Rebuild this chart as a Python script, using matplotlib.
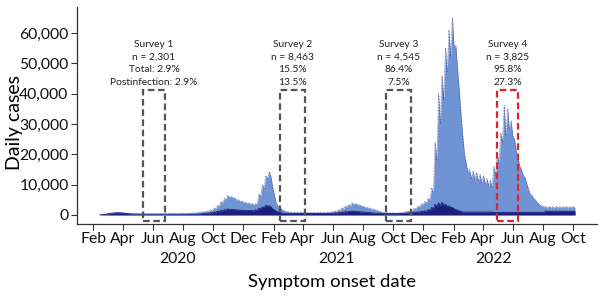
import matplotlib
matplotlib.use("Agg")
import matplotlib.pyplot as plt
import matplotlib.dates as mdates
from matplotlib.patches import Rectangle
import pandas as pd

plt.rcParams["font.family"] = ["Lato", "DejaVu Sans"]

# half-weekly daily-case values (thousands), peak/trough per week, from 2020-02-15
total_2020 = [
    0.1, 0.1, 0.2, 0.15, 0.35, 0.3, 0.55, 0.5, 0.75, 0.7, 0.85, 0.8, 0.8, 0.75, 0.7, 0.6,
    0.55, 0.5, 0.45, 0.4, 0.4, 0.35, 0.35, 0.3, 0.3, 0.3, 0.3, 0.25, 0.3, 0.25, 0.3, 0.25,
    0.3, 0.25, 0.35, 0.3, 0.35, 0.3, 0.35, 0.3, 0.35, 0.3, 0.4, 0.35, 0.4, 0.35, 0.4, 0.35,
    0.45, 0.4, 0.5, 0.45, 0.6, 0.5, 0.7, 0.6, 0.85, 0.75, 1.0, 0.9, 1.2, 1.0, 1.4, 1.2,
    1.7, 1.5, 2.3, 2.0, 3.2, 2.9, 4.5, 4.0, 5.5, 5.0, 6.5, 5.8, 6.2, 5.6, 5.6, 5.0,
    5.0, 4.6, 4.6, 4.2, 4.2, 3.9, 4.0, 3.7, 3.7, 3.4, 3.8, 3.4,
]
total_2021 = [
    7.0, 6.0, 10.0, 9.0, 13.0, 12.0, 14.3, 12.5, 9.0, 6.5, 4.0, 3.0, 2.5, 2.0, 1.6, 1.3,
    1.2, 1.0, 1.0, 0.8, 1.0, 0.8, 1.0, 0.8, 1.0, 0.8, 1.0, 0.8, 0.9, 0.8, 0.9, 0.7,
    0.9, 0.7, 0.9, 0.7, 0.9, 0.7, 0.9, 0.7, 1.0, 0.8, 1.1, 0.9, 1.4, 1.2, 1.8, 1.5,
    2.4, 2.0, 3.0, 2.6, 3.5, 3.0, 4.0, 3.5, 3.8, 3.3, 3.4, 3.0, 3.0, 2.6, 2.6, 2.3,
    2.3, 2.0, 2.0, 1.7, 1.6, 1.4, 1.2, 1.0, 0.9, 0.8, 0.8, 0.7, 0.7, 0.6, 0.7, 0.6,
    0.7, 0.6, 0.8, 0.7, 1.0, 0.9, 1.3, 1.1, 1.7, 1.5, 2.3, 2.0, 3.0, 2.6, 3.8, 3.3,
    4.5, 4.0, 5.5, 5.0, 9.0, 7.0, 24.0, 18.0,
]
total_2022 = [
    40.0, 30.0, 46.0, 38.0, 55.0, 47.0, 61.0, 52.0, 65.0, 55.0, 56.0, 48.0, 41.0, 33.0,
    26.0, 20.0, 17.0, 14.0, 15.0, 12.0, 14.5, 11.5, 14.0, 11.0, 13.5, 10.5, 13.0, 10.0,
    12.0, 9.5, 11.5, 9.0, 16.0, 13.0, 20.0, 17.0, 27.0, 24.0, 36.0, 26.0, 35.0, 28.0,
    31.0, 26.0, 25.0, 21.0, 19.0, 16.0, 15.0, 13.0, 12.5, 10.5, 8.5, 7.0, 6.5, 5.5,
    5.0, 4.3, 3.6, 3.1, 3.0, 2.6, 2.8, 2.3, 2.8, 2.3, 2.8, 2.3, 2.8, 2.3, 2.8, 2.3,
    2.8, 2.3, 2.8, 2.3, 2.8, 2.3, 2.8, 2.3,
]

dark_2020 = [
    0.05, 0.05, 0.2, 0.15, 0.4, 0.35, 0.6, 0.5, 0.7, 0.65, 0.75, 0.7, 0.7, 0.6, 0.55, 0.5,
    0.45, 0.4, 0.35, 0.3, 0.3, 0.25, 0.3, 0.25, 0.3, 0.25, 0.3, 0.25, 0.3, 0.25, 0.3, 0.25,
    0.3, 0.25, 0.3, 0.25, 0.3, 0.25, 0.3, 0.25, 0.3, 0.25, 0.3, 0.25, 0.3, 0.25, 0.3, 0.25,
    0.3, 0.25, 0.3, 0.25, 0.3, 0.25, 0.3, 0.25, 0.3, 0.25, 0.4, 0.35, 0.5, 0.45, 0.6, 0.5,
    0.8, 0.7, 1.0, 0.9, 1.2, 1.1, 1.5, 1.3, 1.8, 1.6, 2.0, 1.8, 1.9, 1.7, 1.8, 1.6,
    1.7, 1.5, 1.6, 1.4, 1.5, 1.4, 1.5, 1.4, 1.5, 1.3, 1.7, 1.5,
]
dark_2021 = [
    2.2, 2.0, 2.7, 2.4, 3.2, 2.9, 3.0, 2.6, 2.0, 1.6, 1.2, 1.0, 0.8, 0.7, 0.6, 0.55,
    0.5, 0.45, 0.5, 0.45, 0.5, 0.45, 0.5, 0.45, 0.5, 0.45, 0.5, 0.45, 0.5, 0.45, 0.5, 0.45,
    0.5, 0.45, 0.5, 0.45, 0.5, 0.45, 0.5, 0.45, 0.5, 0.45, 0.6, 0.55, 0.7, 0.6, 0.8, 0.7,
    1.0, 0.9, 1.1, 1.0, 1.2, 1.1, 1.3, 1.1, 1.2, 1.1, 1.1, 1.0, 1.0, 0.9, 0.9, 0.8,
    0.8, 0.7, 0.7, 0.6, 0.6, 0.55, 0.5, 0.45, 0.45, 0.4, 0.45, 0.4, 0.45, 0.4, 0.45, 0.4,
    0.45, 0.4, 0.5, 0.45, 0.6, 0.5, 0.7, 0.6, 0.8, 0.7, 0.9, 0.8, 1.0, 0.9, 1.2, 1.0,
    1.4, 1.2, 1.8, 1.5, 2.5, 2.0, 3.5, 2.8,
]
dark_2022 = [
    4.0, 3.0, 4.2, 3.2, 3.5, 2.8, 3.0, 2.5, 2.5, 2.0, 1.8, 1.5, 1.4, 1.2,
    1.0, 0.9, 1.0, 0.9, 1.0, 0.9, 1.0, 0.9, 1.0, 0.9, 1.0, 0.9, 1.0, 0.9, 1.0, 0.9, 1.0, 0.9,
    0.9, 0.8, 0.9, 0.8, 0.9, 0.8, 0.9, 0.8, 0.9, 0.8, 0.9, 0.8, 0.9, 0.8, 0.9, 0.8,
    0.9, 0.8, 0.9, 0.8, 0.9, 0.8, 0.9, 0.8, 0.9, 0.8, 0.9, 0.8, 0.9, 0.8,
    1.3, 1.1, 1.3, 1.1, 1.3, 1.1, 1.3, 1.1, 1.3, 1.1, 1.3, 1.1, 1.3, 1.1, 1.3, 1.1, 1.3, 1.1,
]

survey_names = ["Survey 1", "Survey 2", "Survey 3", "Survey 4"]
survey_n = ["n = 2,301", "n = 8,463", "n = 4,545", "n = 3,825"]
survey_total = ["Total: 2.9%", "15.5%", "86.4%", "95.8%"]
survey_post = ["Postinfection: 2.9%", "13.5%", "7.5%", "27.3%"]
survey_start = ["2020-05-12", "2021-02-14", "2021-09-17", "2022-04-30"]
survey_end = ["2020-06-26", "2021-04-06", "2021-11-07", "2022-06-10"]
survey_colors = ["#555555", "#555555", "#555555", "#e3232c"]

total = [v * 1000 for v in total_2020 + total_2021 + total_2022]
dark = [v * 1000 for v in dark_2020 + dark_2021 + dark_2022]
dates = pd.date_range("2020-02-15", periods=len(total), freq="84h")

fig = plt.figure(figsize=(6.0, 2.99), dpi=100)
ax = fig.add_axes([0.128, 0.251, 0.867, 0.726])

ax.fill_between(dates, 0, total, color="#7093d4", lw=0, zorder=2)
ax.plot(dates, total, color="#33478a", lw=0.5, ls=(0, (1, 1.2)), zorder=3)
ax.fill_between(dates, 0, dark, color="#1e1f7a", lw=0, zorder=4)
ax.plot(dates, dark, color="#1e1f7a", lw=0.6, zorder=4)

for i in range(len(survey_names)):
    x0 = mdates.date2num(pd.Timestamp(survey_start[i]))
    x1 = mdates.date2num(pd.Timestamp(survey_end[i]))
    ax.add_patch(Rectangle((x0, -2000), x1 - x0, 43300, fill=False,
                           edgecolor=survey_colors[i], lw=1.6, ls=(0, (3, 1.6)), zorder=5))
    label = "\n".join([survey_names[i], survey_n[i], survey_total[i], survey_post[i]])
    ax.text((x0 + x1) / 2, 50000, label, ha="center", va="center",
            fontsize=7.4, linespacing=1.5, color="#222222", zorder=6)

ax.set_xlim(pd.Timestamp("2019-12-30"), pd.Timestamp("2022-11-18"))
ax.set_ylim(-2970, 68600)
ax.set_yticks([0, 10000, 20000, 30000, 40000, 50000, 60000])
ax.set_yticklabels(["0", "10,000", "20,000", "30,000", "40,000", "50,000", "60,000"])
month_ticks = pd.date_range("2020-02-01", "2022-10-01", freq="2MS")
ax.set_xticks(month_ticks)
ax.set_xticklabels([d.strftime("%b") for d in month_ticks])

for s in ["top", "right"]:
    ax.spines[s].set_visible(False)
for s in ["left", "bottom"]:
    ax.spines[s].set_color("#333333")
    ax.spines[s].set_linewidth(0.9)
ax.tick_params(axis="both", labelsize=11.3, length=4, width=0.8, color="#333333",
               labelcolor="#111111", pad=2)

year_pos = ["2020-07-20", "2021-06-09", "2022-04-22"]
for yr, pos in zip(["2020", "2021", "2022"], year_pos):
    ax.text(pd.Timestamp(pos), -0.16, yr, transform=ax.get_xaxis_transform(),
            ha="center", va="center", fontsize=11.3, color="#111111")

fig.text(0.025, 0.59, "Daily cases", rotation=90, ha="center", va="center", fontsize=14)
fig.text(0.553, 0.057, "Symptom onset date", ha="center", va="center", fontsize=13.3)

fig.savefig("out.png", dpi=100)
